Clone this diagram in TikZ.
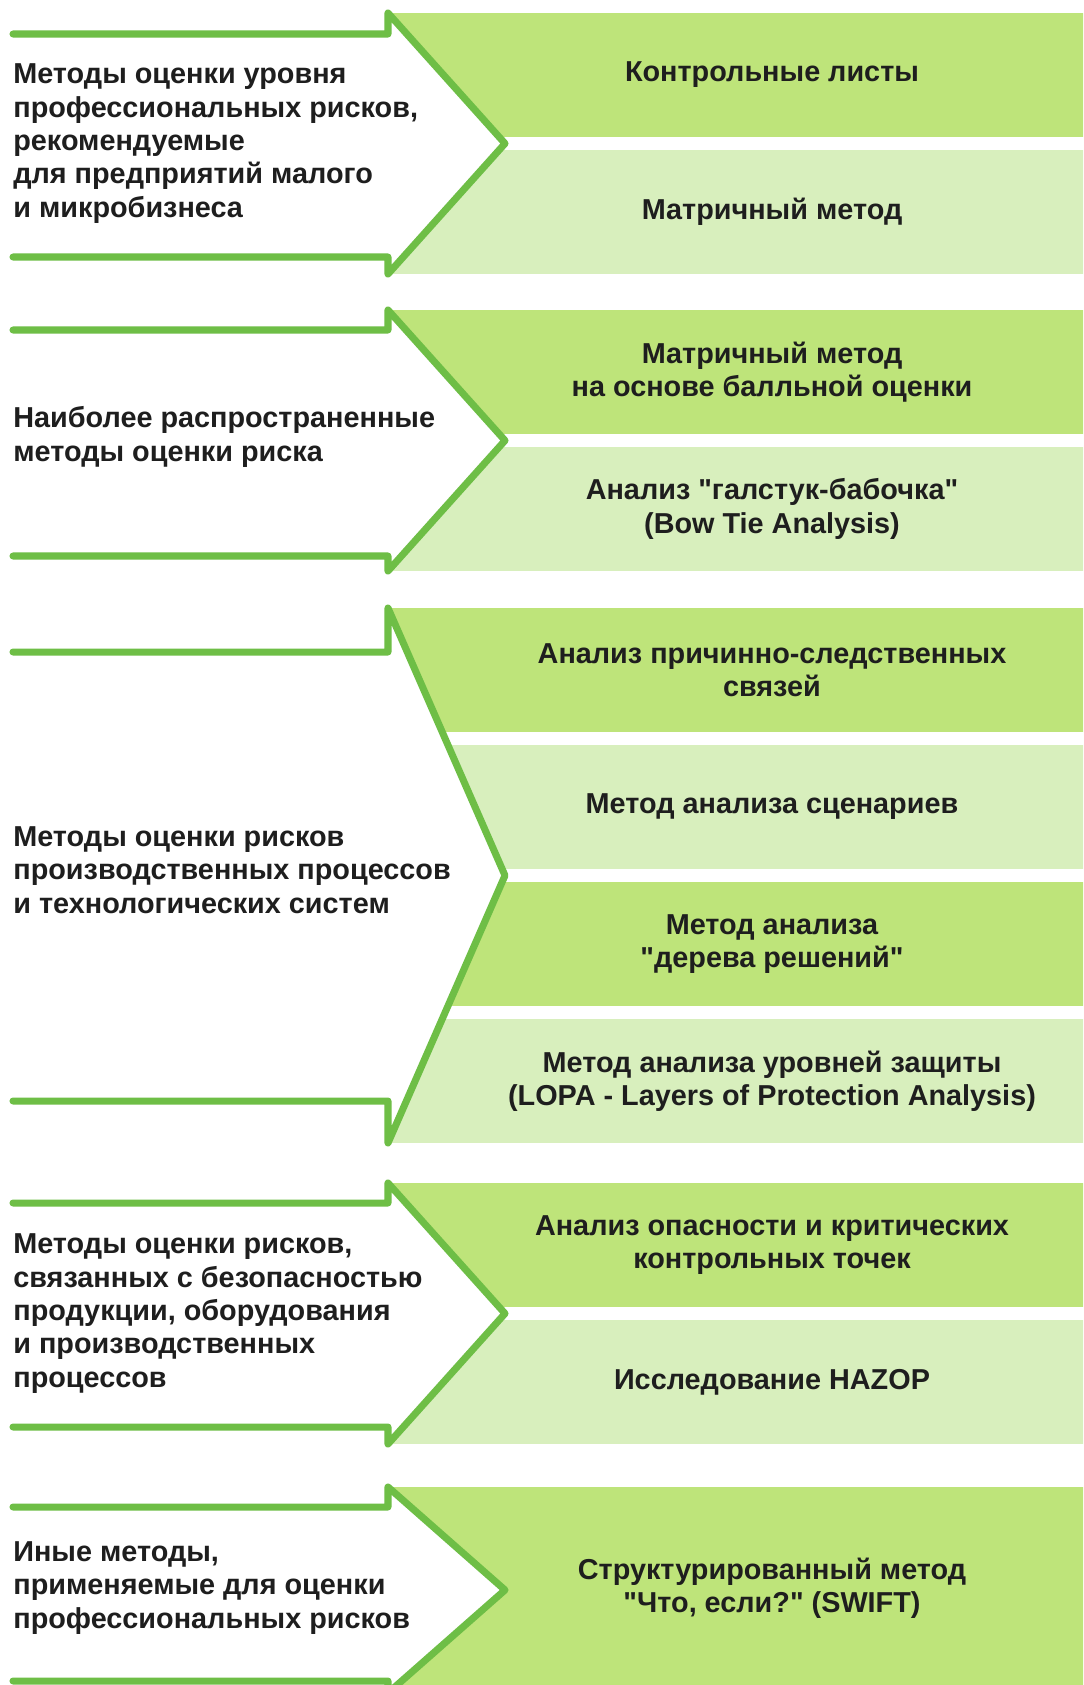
\documentclass[tikz,border=0pt]{standalone}
\usepackage{fontspec}
\setmainfont{Liberation Sans}
\usepackage{xcolor}
\usetikzlibrary{positioning}

\definecolor{boxdark}{RGB}{190,228,122}
\definecolor{boxlight}{RGB}{216,239,189}
\definecolor{arrowgreen}{RGB}{110,190,70}
\definecolor{inktext}{RGB}{30,30,30}

\tikzset{
	grouptext/.style = {anchor=west, align=left, text=inktext,
		font=\fontsize{16.4}{19}\selectfont\bfseries, inner sep=0pt},
	methodtext/.style = {align=center, text=inktext,
		font=\fontsize{16.4}{19}\selectfont\bfseries, inner sep=0pt},
	arrowline/.style = {draw=arrowgreen, line width=4pt, line join=round, line cap=round}
}

\begin{document}
\begin{tikzpicture}[x=0.02cm, y=-0.02cm]
	\clip (0,0) rectangle (1083,1685);
	\fill[white] (0,0) rectangle (1083,1685);
	
	% boxes
	\fill[boxdark] (388,13) rectangle (1090,137);
	\fill[boxlight] (388,150) rectangle (1090,274);
	%
	\fill[boxdark] (388,310) rectangle (1090,434);
	\fill[boxlight] (388,447) rectangle (1090,571);
	%
	\fill[boxdark] (388,608) rectangle (1090,732);
	\fill[boxlight] (388,745) rectangle (1090,869);
	\fill[boxdark] (388,882) rectangle (1090,1006);
	\fill[boxlight] (388,1019) rectangle (1090,1143);
	%
	\fill[boxdark] (388,1183) rectangle (1090,1307);
	\fill[boxlight] (388,1320) rectangle (1090,1444);
	%
	\fill[boxdark] (388,1487) rectangle (1090,1700);
	
	% arrows
	\fill[white] (388,13) -- (505,143.5) -- (388,274) -- cycle
	(388,310) -- (505,440.5) -- (388,571) -- cycle
	(388,608) -- (505,875.5) -- (388,1143) -- cycle
	(388,1183) -- (505,1313.5) -- (388,1444) -- cycle
	(388,1487) -- (505,1590) -- (388,1693) -- cycle;
	
	\draw[arrowline] (13,34) -- (388,34) -- (388,13) -- (505,143.5)
	-- (388,274) -- (388,257) -- (13,257);
	\draw[arrowline] (13,330) -- (388,330) -- (388,310) -- (505,440.5)
	-- (388,571) -- (388,556) -- (13,556);
	\draw[arrowline] (13,652) -- (388,652) -- (388,608) -- (505,875.5)
	-- (388,1143) -- (388,1101) -- (13,1101);
	\draw[arrowline] (13,1203) -- (388,1203) -- (388,1183) -- (505,1313.5)
	-- (388,1444) -- (388,1427) -- (13,1427);
	\draw[arrowline] (13,1507) -- (388,1507) -- (388,1487) -- (505,1590)
	-- (388,1693) -- (388,1681) -- (13,1681);
	
	% left texts
	\node[grouptext] (small) at (13,143.5) {Методы оценки уровня\\профессиональных рисков,\\рекомендуемые\\для предприятий малого\\и микробизнеса};
	\node[grouptext] (common) at (13,437) {Наиболее распространенные\\методы оценки риска};
	\node[grouptext] (process) at (13,870) {Методы оценки рисков\\производственных процессов\\и технологических систем};
	\node[grouptext] (safety) at (13,1313.5) {Методы оценки рисков,\\связанных с безопасностью\\продукции, оборудования\\и производственных\\процессов};
	\node[grouptext] (other) at (13,1588) {Иные методы,\\применяемые для оценки\\профессиональных рисков};
	
	% right texts
	\node[methodtext] (checklist) at (772,75) {Контрольные листы};
	\node[methodtext] (matrix) at (772,212) {Матричный метод};
	\node[methodtext] (scorematrix) at (772,372) {Матричный метод\\на основе балльной оценки};
	\node[methodtext] (bowtie) at (772,509) {Анализ \textquotedbl галстук-бабочка\textquotedbl\\(Bow Tie Analysis)};
	\node[methodtext] (cause) at (772,670) {Анализ причинно-следственных\\связей};
	\node[methodtext] (scenario) at (772,807) {Метод анализа сценариев};
	\node[methodtext] (tree) at (772,944) {Метод анализа\\\textquotedbl дерева решений\textquotedbl};
	\node[methodtext] (lopa) at (772,1081) {Метод анализа уровней защиты\\(LOPA - Layers of Protection Analysis)};
	\node[methodtext] (haccp) at (772,1245) {Анализ опасности и критических\\контрольных точек};
	\node[methodtext] (hazop) at (772,1382) {Исследование HAZOP};
	\node[methodtext] (swift) at (772,1588) {Структурированный метод\\\textquotedbl Что, если?\textquotedbl\ (SWIFT)};
\end{tikzpicture}
\end{document}
